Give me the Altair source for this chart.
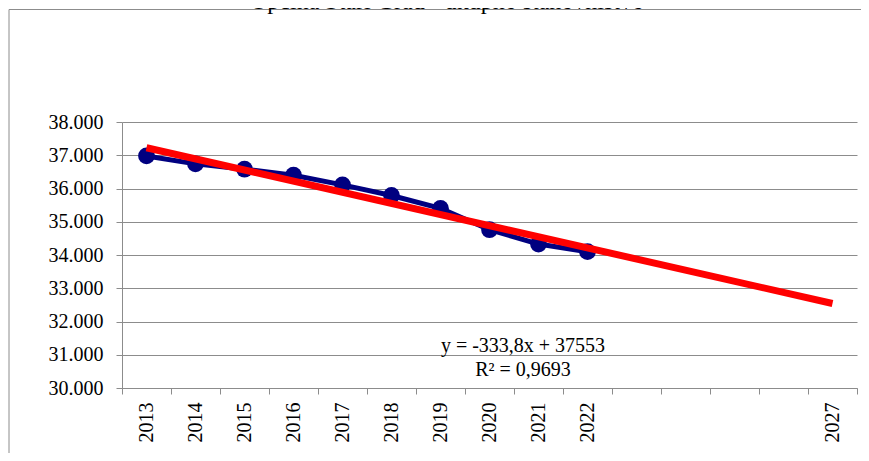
import altair as alt
import pandas as pd

# ---- data ----
years_obs = ["2013", "2014", "2015", "2016", "2017", "2018", "2019", "2020", "2021", "2022"]
population = [36980, 36740, 36580, 36400, 36110, 35790, 35400, 34760, 34330, 34100]
year_index = [1, 2, 3, 4, 5, 6, 7, 8, 9, 10]
all_years = ["2013", "2014", "2015", "2016", "2017", "2018", "2019", "2020",
             "2021", "2022", "2023", "2024", "2025", "2026", "2027"]
shown_years = ["2013", "2014", "2015", "2016", "2017", "2018", "2019", "2020",
               "2021", "2022", "2027"]
trend_extent = [1, 15]
y_ticks = [30000, 31000, 32000, 33000, 34000, 35000, 36000, 37000, 38000]
equation_lines = ["y = -333,8x + 37553", "R² = 0,9693"]
title_text = "Općina Stari Grad - ukupno stanovništvo"

FONT = "Liberation Serif"
GRAY = "#8c8c8c"
NAVY = "#000080"
RED = "#ff0000"

df = pd.DataFrame({"year": years_obs, "pop": population, "idx": year_index})

label_list = "[" + ",".join("'%s'" % y for y in shown_years) + "]"

x_scale = alt.Scale(type="band", domain=all_years, paddingInner=0, paddingOuter=0)
y_scale = alt.Scale(domain=[30000, 38000], nice=False, zero=False)

x_axis = alt.Axis(
    title=None, tickBand="extent", grid=False, labelAngle=-90,
    labelAlign="right", labelBaseline="middle",
    labelExpr="indexof(%s, datum.value) >= 0 ? datum.value : ''" % label_list,
    labelFont=FONT, labelFontSize=20, labelColor="black", labelPadding=8,
    tickSize=6, tickColor=GRAY, domainColor=GRAY, labelOverlap=False,
)
y_axis = alt.Axis(
    title=None, values=y_ticks, grid=True, gridColor=GRAY, gridOpacity=1,
    labelExpr="replace(format(datum.value, ','), ',', '.')",
    labelFont=FONT, labelFontSize=20, labelColor="black", labelPadding=13,
    tickSize=6, tickColor=GRAY, domainColor=GRAY, labelOverlap=False,
    tickCount=9,
)

base = alt.Chart(df)
X = alt.X("year:O", scale=x_scale, axis=x_axis, bandPosition=0.5)
Y = alt.Y("pop:Q", scale=y_scale, axis=y_axis)

obs_line = base.mark_line(color=NAVY, strokeWidth=5).encode(x=X, y=Y)
obs_pts = base.mark_circle(color=NAVY, size=280, opacity=1).encode(x=X, y=Y)
trend = base.transform_regression(
    "idx", "pop", method="linear", extent=trend_extent
).transform_calculate(
    year="toString(2012 + datum.idx)"
).mark_line(color=RED, strokeWidth=7).encode(x=X, y=Y)

eq_df = pd.DataFrame({"t": equation_lines, "row": [0, 1]})
eq1 = alt.Chart(eq_df).transform_filter("datum.row == 0").mark_text(
    font=FONT, fontSize=20, color="black", align="center", baseline="alphabetic"
).encode(text="t:N", x=alt.value(401), y=alt.value(229.5))
eq2 = alt.Chart(eq_df).transform_filter("datum.row == 1").mark_text(
    font=FONT, fontSize=20, color="black", align="center", baseline="alphabetic"
).encode(text="t:N", x=alt.value(401), y=alt.value(253.5))

frame_df = pd.DataFrame({"k": [0]})
frame = alt.Chart(frame_df).mark_rect(
    fillOpacity=0, stroke=GRAY, strokeWidth=1
).encode(x=alt.value(-113), x2=alt.value(760), y=alt.value(-112.5), y2=alt.value(420))

title_df = pd.DataFrame({"t": [title_text]})
title = alt.Chart(title_df).mark_text(
    font=FONT, fontSize=24, color="black", align="center", baseline="alphabetic"
).encode(text="t:N", x=alt.value(325), y=alt.value(-113))

chart = alt.layer(frame, title, obs_line, obs_pts, trend, eq1, eq2).properties(
    width=735, height=266,
    autosize=alt.AutoSizeParams(type="none"),
    padding={"left": 114, "top": 114, "right": 4, "bottom": 65},
).configure_view(stroke=None)

chart.save("out.html", embed_options={"renderer": "svg", "actions": False})
